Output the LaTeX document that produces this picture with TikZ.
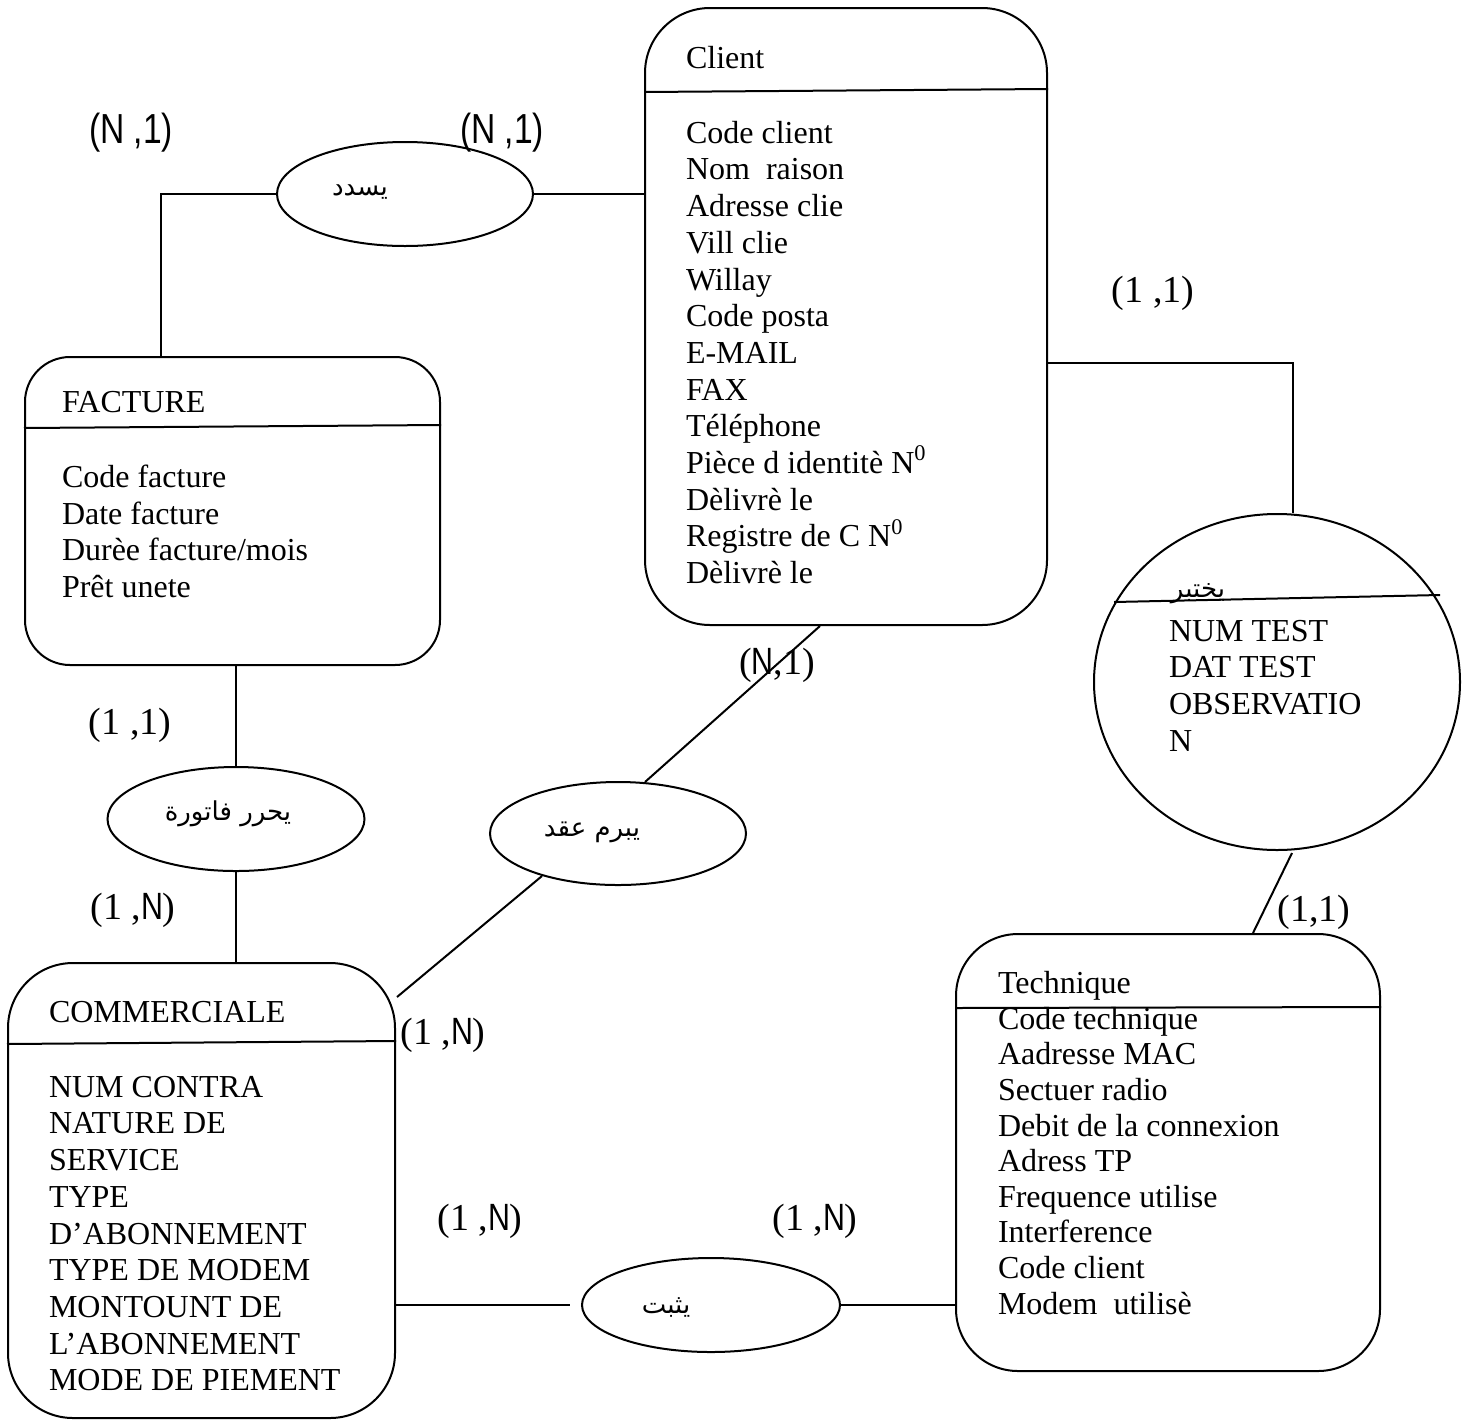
\documentclass[tikz,border=0pt]{standalone}
\usepackage{fontspec}
\usepackage{graphicx}
\setmainfont{Liberation Serif}
\setsansfont{Liberation Sans}
\newfontfamily\arabicfont[Script=Arabic]{DejaVu Sans}
\TeXXeTstate=1
\usetikzlibrary{shapes.geometric,calc}

% narrow sans capital N used inside the cardinalities
\newcommand\cardN{\scalebox{0.8}[1]{\sffamily N}}
\newcommand\cardsans[1]{\scalebox{0.8}[1]{\sffamily #1}}

\begin{document}
\begin{tikzpicture}[x=0.5pt,y=-0.5pt,line width=1pt,
  entity/.style={draw,rectangle,inner sep=0pt},
  rel/.style={draw,ellipse,inner sep=0pt},
  title/.style={font=\fontsize{16}{18.35}\selectfont,inner sep=0pt,anchor=base west},
  attrs/.style={font=\fontsize{16}{18.35}\selectfont,inner sep=0pt,align=left,anchor=north west},
  artext/.style={font=\fontsize{13}{15}\selectfont\arabicfont,inner sep=0pt},
  card/.style={font=\fontsize{19}{22}\selectfont,inner sep=0pt}]
\useasboundingbox (0,0) rectangle (1471,1419);

% ---------- entities ----------
\node[entity,rounded corners=32.5pt,minimum width=201pt,minimum height=308.5pt] (client) at (846,316.5) {};
\draw (client.west |- 0,92) -- (client.east |- 0,89);
\node[title] (clientT) at (685,68) {Client};
\node[attrs] (clientA) at (685,120) {Code client\\Nom\ \ raison\\Adresse clie\\Vill clie\\Willay\\Code posta\\E-MAIL\\FAX\\Téléphone\\Pièce d identitè N\textsuperscript{0}\\Dèlivrè le\\Registre de C N\textsuperscript{0}\\Dèlivrè le};

\node[entity,rounded corners=22.5pt,minimum width=207.5pt,minimum height=154pt] (fac) at (232.5,511) {};
\draw (fac.west |- 0,428) -- (fac.east |- 0,425);
\node[title] (facT) at (61,412) {FACTURE};
\node[attrs] (facA) at (61,464) {Code facture\\Date facture\\Durèe facture/mois\\Prêt unete};

\node[entity,rounded corners=32.5pt,minimum width=193.5pt,minimum height=227.5pt] (com) at (201.5,1190.5) {};
\draw (com.west |- 0,1044) -- (com.east |- 0,1041);
\node[title] (comT) at (48,1022) {COMMERCIALE};
\node[attrs] (comA) at (48,1075) {NUM CONTRA\\NATURE DE\\SERVICE\\TYPE\\D’ABONNEMENT\\TYPE DE MODEM\\MONTOUNT DE\\L’ABONNEMENT\\MODE DE PIEMENT};

\node[entity,rounded corners=31pt,minimum width=212pt,minimum height=218.5pt] (tech) at (1168,1152.5) {};
\draw (tech.west |- 0,1008) -- (tech.east |- 0,1007);
\node[title] (techT) at (997,993) {Technique};
\node[attrs,font=\fontsize{16}{17.8}\selectfont] (techA) at (997,1006) {Code technique\\Aadresse MAC\\Sectuer radio\\Debit de la connexion\\Adress TP\\Frequence utilise\\Interference\\Code client\\Modem\ \ utilisè};

% ---------- relationships ----------
\node[rel,minimum width=183pt,minimum height=168pt] (ktb) at (1277,682) {};
\draw (1114,602) -- (1440,595);
\node[artext] (ktbT) at (1198,594) {\beginR يختبر\endR};
\node[attrs] (ktbA) at (1168,619) {NUM TEST\\DAT TEST\\OBSERVATIO\\N};

\node[rel,minimum width=128pt,minimum height=52pt] (sdd) at (405,194) {};
\node[artext] (sddT) at (360,192) {\beginR يسدد\endR};

\node[rel,minimum width=128.5pt,minimum height=52pt] (hrr) at (236,819) {};
\node[artext] (hrrT) at (228,814) {\beginR يحرر فاتورة\endR};

\node[rel,minimum width=128pt,minimum height=51.5pt] (brm) at (618,833.5) {};
\node[artext] (brmT) at (592,832) {\beginR يبرم عقد\endR};

\node[rel,minimum width=129pt,minimum height=47pt] (thb) at (711,1305) {};
\node[artext] (thbT) at (666,1307) {\beginR يثبت\endR};

% ---------- connectors ----------
\draw (sdd.west) -| (fac.north -| 161,0);
\draw (sdd.east) -- (client.west |- sdd.east);
\draw (client.east |- 0,363) -| ($(ktb.north)+(16,0)$);
\draw (fac.south -| hrr.north) -- (hrr.north);
\draw (hrr.south) -- (com.north -| hrr.south);
\draw ($(brm.north)+(27,1)$) -- (client.south -| 820,0);
\draw ($(brm.south)+(-76,-10)$) -- ($(com.north east)+(1,35)$);
\draw (com.east |- thb.west) -- ($(thb.west)+(-11,0)$);
\draw (thb.east) -- (tech.west |- thb.east);
\draw ($(ktb.south)+(15,2)$) -- (tech.north -| 1253,0);

% ---------- cardinalities ----------
\node[card,font=\fontsize{21}{24}\selectfont] (c1) at (131,133) {\cardsans{(N ,1)}};
\node[card,font=\fontsize{21}{24}\selectfont] (c2) at (502,133) {\cardsans{(N ,1)}};
\node[card] (c3) at (1153,293) {(1 ,1)};
\node[card] (c4) at (130,725) {(1 ,1)};
\node[card] (c5) at (133,910) {(1 ,\cardN)};
\node[card] (c6) at (777,665) {(\cardN ,1)};
\node[card] (c7) at (443,1035) {(1 ,\cardN)};
\node[card] (c8) at (480,1221) {(1 ,\cardN)};
\node[card] (c9) at (815,1221) {(1 ,\cardN)};
\node[card] (c10) at (1314,912) {(1,1)};
\end{tikzpicture}
\end{document}
